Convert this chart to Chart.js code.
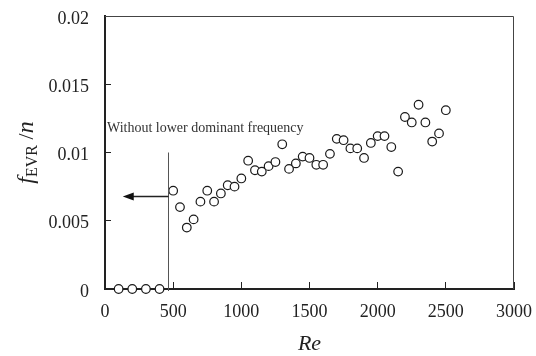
<!DOCTYPE html>
<html>
<head>
<meta charset="utf-8">
<script src="https://cdn.jsdelivr.net/npm/chart.js@4.4.1/dist/chart.umd.min.js"></script>
<style>
  html, body { margin: 0; padding: 0; background: #fff; }
  #wrap { width: 536px; height: 356px; position: relative; }
</style>
</head>
<body>
<div id="wrap"><canvas id="chart"></canvas></div>
<script>
// Re values and f_EVR/n
var lowRe = [100, 200, 300, 400];
var lowVal = [0, 0, 0, 0];

var reValues = [500, 550, 600, 650, 700, 750, 800, 850, 900, 950,
    1000, 1050, 1100, 1150, 1200, 1250, 1300, 1350, 1400, 1450,
    1500, 1550, 1600, 1650, 1700, 1750, 1800, 1850, 1900, 1950,
    2000, 2050, 2100, 2150, 2200, 2250, 2300, 2350, 2400, 2450, 2500];
var fValues = [0.0072, 0.0060, 0.0045, 0.0051, 0.0064, 0.0072, 0.0064, 0.0070, 0.0076, 0.0075,
    0.0081, 0.0094, 0.0087, 0.0086, 0.0090, 0.0093, 0.0106, 0.0088, 0.0092, 0.0097,
    0.0096, 0.0091, 0.0091, 0.0099, 0.0110, 0.0109, 0.0103, 0.0103, 0.0096, 0.0107,
    0.0112, 0.0112, 0.0104, 0.0086, 0.0126, 0.0122, 0.0135, 0.0122, 0.0108, 0.0114, 0.0131];

var xTicks = [0, 500, 1000, 1500, 2000, 2500, 3000];
var yTicks = [0, 0.005, 0.01, 0.015, 0.02];

// boundary marker: vertical line and arrow
var boundaryRe = 460;
var boundaryTop = 0.01;
var arrowTipRe = 130;
var arrowLevel = 0.0068;
var noteText = 'Without lower dominant frequency';

var serif = '"Liberation Serif", "Times New Roman", serif';

function toPoints(xs, ys) {
    return xs.map(function (x, i) { return { x: x, y: ys[i] }; });
}

var extras = {
    id: 'extras',
    afterDraw: function (chart) {
        var ctx = chart.ctx;
        var a = chart.chartArea;
        var xs = chart.scales.x, ys = chart.scales.y;
        ctx.save();
        // top and right frame
        ctx.strokeStyle = '#444';
        ctx.lineWidth = 1;
        ctx.beginPath();
        ctx.moveTo(a.left, a.top + 0.5);
        ctx.lineTo(a.right - 0.5, a.top + 0.5);
        ctx.lineTo(a.right - 0.5, a.bottom);
        ctx.stroke();

        // vertical boundary line
        var bx = Math.round(xs.getPixelForValue(boundaryRe)) + 0.5;
        ctx.strokeStyle = '#555';
        ctx.lineWidth = 1;
        ctx.beginPath();
        ctx.moveTo(bx, ys.getPixelForValue(boundaryTop));
        ctx.lineTo(bx, ys.getPixelForValue(0) + 2);
        ctx.stroke();

        // arrow
        var ay = Math.round(ys.getPixelForValue(arrowLevel)) + 0.5;
        var tip = xs.getPixelForValue(arrowTipRe);
        ctx.strokeStyle = '#222';
        ctx.lineWidth = 1.5;
        ctx.beginPath();
        ctx.moveTo(bx, ay);
        ctx.lineTo(tip + 8, ay);
        ctx.stroke();
        ctx.fillStyle = '#111';
        ctx.beginPath();
        ctx.moveTo(tip, ay);
        ctx.lineTo(tip + 11, ay - 4);
        ctx.lineTo(tip + 11, ay + 4);
        ctx.closePath();
        ctx.fill();

        // note
        ctx.fillStyle = '#333';
        ctx.font = '14px ' + serif;
        ctx.textAlign = 'left';
        ctx.textBaseline = 'alphabetic';
        ctx.fillText(noteText, a.left + 2, ys.getPixelForValue(boundaryTop) - 21);

        // x title
        ctx.fillStyle = '#222';
        ctx.font = 'italic 22px ' + serif;
        ctx.textAlign = 'center';
        ctx.fillText('Re', (a.left + a.right) / 2, 350);

        // y title with subscript
        ctx.translate(33, (a.top + a.bottom) / 2);
        ctx.rotate(-Math.PI / 2);
        var parts = [
            { t: 'f', f: 'italic 24px ' + serif, dy: 0 },
            { t: 'EVR', f: '16px ' + serif, dy: 4 },
            { t: ' /', f: '22px ' + serif, dy: 0 },
            { t: 'n', f: 'italic 24px ' + serif, dy: 0 }
        ];
        var total = 0;
        parts.forEach(function (p) { ctx.font = p.f; p.w = ctx.measureText(p.t).width; total += p.w; });
        var cx = -total / 2;
        ctx.textAlign = 'left';
        parts.forEach(function (p) {
            ctx.font = p.f;
            ctx.fillText(p.t, cx, p.dy);
            cx += p.w;
        });
        ctx.restore();
    }
};

var ctx = document.getElementById('chart').getContext('2d');
var chart = new Chart(ctx, {
    type: 'scatter',
    data: {
        datasets: [{
            data: toPoints(lowRe, lowVal),
            clip: false
        }, {
            data: toPoints(reValues, fValues),
            clip: false
        }]
    },
    options: {
        responsive: true,
        maintainAspectRatio: false,
        animation: false,
        layout: { padding: { left: 0, top: 16, right: 22, bottom: 0 } },
        elements: {
            point: {
                pointStyle: 'circle',
                radius: 4.3,
                borderWidth: 1.2,
                borderColor: '#1a1a1a',
                backgroundColor: '#fff'
            }
        },
        plugins: {
            legend: { display: false },
            tooltip: { enabled: false }
        },
        scales: {
            x: {
                type: 'linear',
                min: 0,
                max: 3000,
                afterFit: function (s) { s.height = 67; s.paddingLeft = 0; s.paddingRight = 0; },
                afterBuildTicks: function (s) { s.ticks = xTicks.map(function (v) { return { value: v }; }); },
                border: { display: true, color: '#222', width: 2 },
                grid: { drawOnChartArea: false, tickLength: -7, color: '#222', lineWidth: 1 },
                ticks: {
                    padding: 19,
                    color: '#222',
                    font: { family: serif, size: 18 },
                    maxRotation: 0,
                    callback: function (v) { return String(v); }
                }
            },
            y: {
                type: 'linear',
                min: 0,
                max: 0.02,
                afterFit: function (s) { s.width = 105; s.paddingTop = 0; s.paddingBottom = 0; },
                afterBuildTicks: function (s) { s.ticks = yTicks.map(function (v) { return { value: v }; }); },
                border: { display: true, color: '#222', width: 2 },
                grid: { drawOnChartArea: false, tickLength: -6, color: '#222', lineWidth: 1 },
                ticks: {
                    padding: 22,
                    labelOffset: 3,
                    color: '#222',
                    font: { family: serif, size: 18 },
                    callback: function (v) { return String(+v.toFixed(3)); }
                }
            }
        }
    },
    plugins: [extras]
});
</script>
</body>
</html>
